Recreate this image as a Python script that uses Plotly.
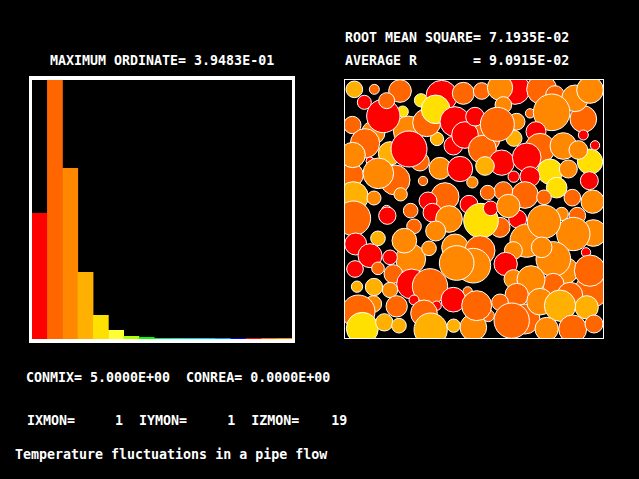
import plotly.graph_objects as go

# Histogram
bin_no = list(range(1, 18))
bin_values = [0.192, 0.39483, 0.2607, 0.102, 0.0366, 0.0137, 0.0046, 0.003,
              0.0015, 0.0015, 0.0015, 0.0015, 0.0015, 0.0015, 0.0015, 0.0015, 0.0015]
bin_colors = ["#FF0000", "#FF6600", "#FF8800", "#FFB000", "#FFE000", "#FFFF33", "#B0FF00", "#00FF00",
              "#00E060", "#00E0A0", "#00D0D0", "#00C0FF", "#0090FF", "#0000FF", "#FF0000", "#FF6600", "#FF8800"]

# Particles, drawn in this order (arbitrary length units across the box)
R, O, A, G, Y = "#FF0000", "#FF6600", "#FF8800", "#FFB000", "#FFE000"
px = [28,88,165,58,228,173,22,276,85,190,115,125,245,290,355,272,
      410,510,465,590,630,555,715,690,735,620,475,515,
      420,325,330,360,412,507,390,457,
      60,135,75,20,23,150,225,192,100,234,285,345,382,
      25,87,167,300,249,372,125,
      573,585,470,420,545,735,655,700,715,750,615,670,555,506,733,635,
      540,475,428,597,682,743,
      197,127,25,207,99,32,75,197,178,252,262,312,272,
      465,518,408,437,490,330,405,385,335,
      135,30,99,145,200,255,36,85,87,135,
      40,155,207,275,237,325,368,385,430,395,52,118,162,257,326,
      545,505,482,723,745,697,650,685,597,660,625,590,740,735,505,625,558,515,465,540,585,675,725,645,500,605,683,747]
py = [25,25,30,64,58,92,132,174,155,150,105,59,125,45,37,85,
      30,25,20,25,42,97,114,52,27,94,72,122,
      172,194,122,162,205,172,107,130,
      187,217,240,282,222,297,242,204,277,300,262,264,304,
      347,351,340,347,360,370,388,
      152,202,245,255,229,242,195,207,162,193,272,264,287,287,299,320,
      342,330,335,349,350,362,
      389,404,412,436,472,489,524,534,479,502,395,414,450,
      439,414,419,382,375,499,509,554,546,
      529,564,562,579,609,616,617,669,618,627,
      692,676,657,674,697,656,631,739,704,674,742,724,734,746,734,
      479,509,549,514,456,404,399,459,422,569,534,499,629,569,594,609,596,642,664,714,662,642,679,674,719,744,744,729]
pr = [25,15,34,21,20,17,26,20,35,45,50,24,42,47,33,43,
      25,45,38,45,28,14,40,40,40,55,25,25,
      45,28,45,40,42,24,28,51,
      44,35,12,35,38,45,28,54,46,14,33,38,17,
      45,21,20,42,27,27,15,
      30,45,38,28,43,38,40,28,15,14,38,27,30,17,27,31,
      40,28,22,22,25,35,
      22,26,52,22,22,33,36,45,37,22,28,40,30,
      30,27,52,22,35,40,45,52,52,
      22,25,19,28,45,53,17,25,26,23,
      50,32,15,14,40,37,14,40,18,45,48,26,22,50,20,
      50,27,35,14,40,25,20,50,50,40,52,31,50,47,28,32,42,35,25,45,40,38,35,47,53,35,42,27]
pc = [G,O,O,R,Y,Y,O,G,A,A,R,O,O,R,O,Y,
      O,R,A,O,O,O,O,A,A,A,A,A,
      O,R,R,R,O,G,R,O,
      O,G,R,O,A,O,O,R,A,O,A,R,A,
      G,A,A,O,R,R,R,
      R,O,R,G,R,Y,A,A,R,R,Y,A,R,R,R,Y,
      O,O,O,O,O,A,
      O,R,O,O,G,R,R,A,A,A,R,A,A,
      O,R,Y,R,A,A,O,A,A,
      R,R,O,O,R,O,G,A,G,A,
      O,O,R,R,O,R,O,A,O,O,Y,G,G,G,G,
      A,A,R,R,A,O,A,A,A,A,A,A,O,O,A,O,A,O,O,O,A,O,G,G,O,A,O,O]

# Captions
text_strings = ["ROOT MEAN SQUARE= 7.1935E-02", "AVERAGE R       = 9.0915E-02",
                "MAXIMUM ORDINATE= 3.9483E-01",
                "CONMIX= 5.0000E+00  CONREA= 0.0000E+00",
                "IXMON=     1  IYMON=     1  IZMON=    19",
                "Temperature fluctuations in a pipe flow"]
text_left = [343, 343, 48, 24, 25, 13]
text_mid = [37, 61, 61, 377, 420, 454]

W, H = 639, 479
fig = go.Figure()
fig.add_trace(go.Bar(x=bin_no, y=bin_values, marker=dict(color=bin_colors, line_width=0), width=1.03,
                     xaxis="x", yaxis="y", hoverinfo="skip"))
shapes = []
for x, y, r, c in zip(px, py, pr, pc):
    shapes.append(dict(type="circle", xref="x2", yref="y2", x0=x - r, x1=x + r, y0=y - r, y1=y + r,
                       fillcolor=c, line=dict(color="white", width=1)))
annots = [dict(text=t.replace(" ", "\u00a0"), xref="paper", yref="paper", x=l / W, y=1 - m / H,
               xanchor="left", yanchor="middle", showarrow=False,
               font=dict(family="DejaVu Sans Mono", size=13.3, color="white", weight="bold"))
          for t, l, m in zip(text_strings, text_left, text_mid)]
fig.update_layout(
    width=W, height=H, margin=dict(l=0, r=0, t=0, b=0), autosize=False,
    paper_bgcolor="black", plot_bgcolor="black", showlegend=False,
    shapes=shapes, annotations=annots,
    xaxis=dict(domain=[32 / W, 292 / W], range=[0.5, 17.5], showticklabels=False, ticks="", showgrid=False,
               zeroline=False, showline=True, mirror=True, linecolor="white", linewidth=4),
    yaxis=dict(domain=[1 - 339 / H, 1 - 80 / H], range=[0, 0.39483], showticklabels=False, ticks="", showgrid=False,
               zeroline=False, showline=True, mirror=True, linecolor="white", linewidth=3),
    xaxis2=dict(domain=[345 / W, 603 / W], range=[0, 774], showticklabels=False, ticks="", showgrid=False,
                zeroline=False, showline=True, mirror=True, linecolor="white", linewidth=1, anchor="y2"),
    yaxis2=dict(domain=[1 - 338 / H, 1 - 80 / H], range=[771, -3], showticklabels=False, ticks="", showgrid=False,
                zeroline=False, showline=True, mirror=True, linecolor="white", linewidth=1, anchor="x2"),
)
fig.write_html("out.html", config=dict(displayModeBar=False),
               post_script="document.body.style.margin='0';document.body.style.background='black';document.documentElement.style.background='black';document.body.style.overflow='hidden';")
